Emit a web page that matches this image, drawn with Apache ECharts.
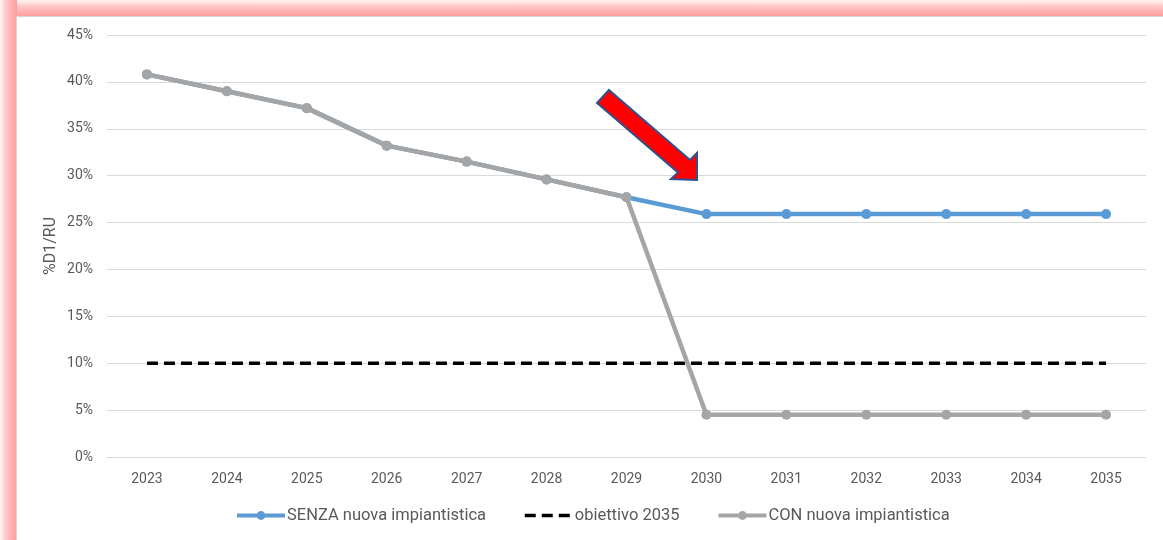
<!DOCTYPE html>
<html>
<head>
<meta charset="utf-8">
<script src="https://cdn.jsdelivr.net/npm/echarts@6/dist/echarts.min.js"></script>
<style>
  html, body { margin: 0; padding: 0; background: #ffffff; }
  #frame { position: relative; width: 1163px; height: 540px; overflow: hidden; background: #ffffff; }
  /* soft red glow along the left and top edges of the card */
  #glowLeft { position: absolute; left: 0; top: 0; width: 17px; height: 540px;
    background: linear-gradient(to right, #fff4f4 0%, #ffc8c8 35%, #ff9a9a 100%); }
  #glowTop { position: absolute; left: 0; top: 0; width: 1163px; height: 17px;
    background: linear-gradient(to bottom, #fff4f4 0%, #ffc8c8 35%, #ff9a9a 100%); }
  #card { position: absolute; left: 16px; top: 16px; width: 1147px; height: 524px;
    background: #ffffff; border-left: 1px solid #d6d6d6; border-top: 1px solid #d6d6d6; box-sizing: border-box; }
  #chart { position: absolute; left: 0; top: 0; width: 1163px; height: 540px; }
</style>
</head>
<body>
<div id="frame">
  <div id="glowTop"></div>
  <div id="glowLeft"></div>
  <div id="card"></div>
  <div id="chart"></div>
</div>
<script>
// Anni di riferimento
const years = ['2023', '2024', '2025', '2026', '2027', '2028', '2029', '2030', '2031', '2032', '2033', '2034', '2035'];

// Quota %D1/RU senza nuova impiantistica
const senza = [40.8, 39.0, 37.2, 33.2, 31.5, 29.6, 27.7, 25.9, 25.9, 25.9, 25.9, 25.9, 25.9];

// Obiettivo 2035 (10%)
const obiettivo = [10, 10, 10, 10, 10, 10, 10, 10, 10, 10, 10, 10, 10];

// Quota %D1/RU con nuova impiantistica
const con = [40.8, 39.0, 37.2, 33.2, 31.5, 29.6, 27.7, 4.5, 4.5, 4.5, 4.5, 4.5, 4.5];

const FONT = 'Roboto, "Liberation Sans", sans-serif';
const TXT = '#595959';

const chart = echarts.init(document.getElementById('chart'), null, { renderer: 'canvas' });

chart.setOption({
  backgroundColor: 'transparent',
  animation: false,
  textStyle: { fontFamily: FONT },
  grid: { left: 107, right: 17, top: 35, bottom: 83, containLabel: false },
  legend: {
    bottom: 11,
    left: 230,
    itemWidth: 48,
    itemHeight: 11,
    itemGap: 37,
    lineStyle: { width: 4 },
    textStyle: { color: TXT, fontSize: 16.5, fontFamily: FONT, padding: [0, 0, 0, -3] },
    data: [
      { name: 'SENZA nuova impiantistica' },
      { name: 'obiettivo 2035', itemStyle: { opacity: 0 }, lineStyle: { width: 3.5 } },
      { name: 'CON nuova impiantistica' }
    ]
  },
  xAxis: {
    type: 'category',
    data: years,
    boundaryGap: true,
    axisLine: { show: true, lineStyle: { color: '#d9d9d9', width: 1 } },
    axisTick: { show: false },
    axisLabel: { color: TXT, fontSize: 14, margin: 15, fontFamily: FONT },
    splitLine: { show: false }
  },
  yAxis: {
    type: 'value',
    min: 0,
    max: 45,
    interval: 5,
    name: '%D1/RU',
    nameLocation: 'middle',
    nameGap: 56,
    nameMoveOverlap: false,
    nameRotate: 90,
    nameTextStyle: { color: TXT, fontSize: 16, fontFamily: FONT, verticalAlign: 'middle' },
    axisLine: { show: false },
    axisTick: { show: false },
    axisLabel: { color: TXT, fontSize: 14, margin: 14, formatter: '{value}%', fontFamily: FONT },
    splitLine: { show: true, lineStyle: { color: '#d9d9d9', width: 1 } }
  },
  series: [
    {
      name: 'SENZA nuova impiantistica',
      type: 'line',
      data: senza,
      symbol: 'circle',
      symbolSize: 10,
      lineStyle: { color: '#5b9bd5', width: 4.5 },
      itemStyle: { color: '#5b9bd5' },
      z: 2
    },
    {
      name: 'obiettivo 2035',
      type: 'line',
      data: obiettivo,
      symbol: 'none',
      lineStyle: { color: '#000000', width: 3.5, type: [11, 6] },
      itemStyle: { color: '#000000' },
      z: 3
    },
    {
      name: 'CON nuova impiantistica',
      type: 'line',
      data: con,
      symbol: 'circle',
      symbolSize: 10,
      lineStyle: { color: '#a5a5a5', width: 4.5 },
      itemStyle: { color: '#a5a5a5' },
      z: 4
    }
  ],
  graphic: [
    {
      // freccia rossa che indica il punto di divergenza
      type: 'polygon',
      z: 100,
      shape: {
        points: [
          [609, 90], [690, 160], [697, 153], [697, 180], [671, 179], [678, 172.5], [597, 103]
        ]
      },
      style: { fill: '#ff0000', stroke: '#2f4f8f', lineWidth: 2, lineJoin: 'miter' }
    }
  ]
});
</script>
</body>
</html>
